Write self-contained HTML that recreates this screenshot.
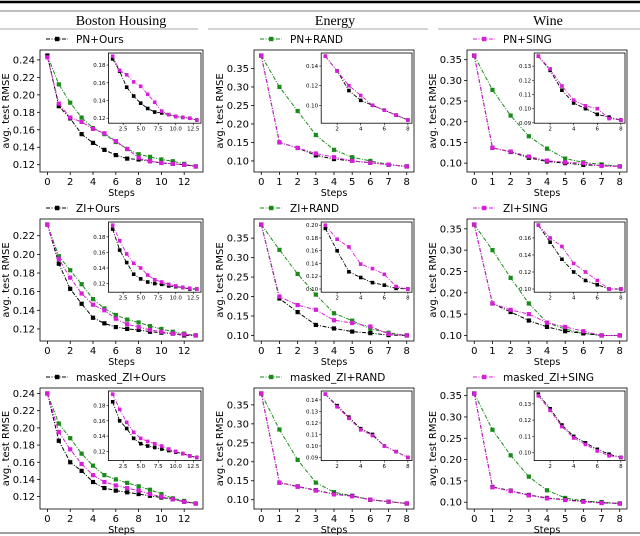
<!DOCTYPE html>
<html><head><meta charset="utf-8"><style>
body{margin:0;background:#fff;}
svg{display:block;font-family:"DejaVu Sans","Liberation Sans",sans-serif;}
</style></head><body>
<svg id="fig" width="640" height="536" viewBox="0 0 640 536" xmlns="http://www.w3.org/2000/svg">
<line x1="0" y1="2" x2="640" y2="2" stroke="#000" stroke-width="2.5"/>
<line x1="0" y1="11" x2="640" y2="11" stroke="#000" stroke-width="0.6"/>
<line x1="0" y1="29" x2="198" y2="29" stroke="#555" stroke-width="0.6"/>
<line x1="208" y1="29" x2="428" y2="29" stroke="#555" stroke-width="0.6"/>
<line x1="438" y1="29" x2="640" y2="29" stroke="#555" stroke-width="0.6"/>
<line x1="0" y1="533" x2="640" y2="533" stroke="#000" stroke-width="0.8"/>
<text x="121" y="25" text-anchor="middle" font-family="Liberation Serif,serif" font-size="14">Boston Housing</text>
<text x="335" y="25" text-anchor="middle" font-family="Liberation Serif,serif" font-size="14">Energy</text>
<text x="548" y="25" text-anchor="middle" font-family="Liberation Serif,serif" font-size="14">Wine</text>
</svg>
<script>
// ---- data ----
const bostonSteps=[0,1,2,3,4,5,6,7,8,9,10,11,12,13];
const shortSteps=[0,1,2,3,4,5,6,7,8];
const b1Green=[.245,.212,.191,.174,.162,.155,.146,.138,.132,.129,.126,.124,.121,.118];
const b1Black=[.245,.187,.173,.155,.145,.137,.131,.127,.126,.124,.122,.121,.120,.118];
const b1Mag=[.243,.190,.174,.169,.161,.156,.147,.138,.128,.124,.122,.121,.120,.118];
const b2Green=[.232,.198,.183,.168,.152,.142,.135,.130,.127,.123,.120,.117,.115,.113];
const b2Black=[.232,.190,.163,.147,.132,.126,.122,.120,.119,.117,.116,.115,.113,.113];
const b2Mag=[.232,.195,.175,.158,.146,.140,.131,.125,.122,.119,.117,.115,.114,.113];
const b3Green=[.240,.205,.188,.170,.156,.145,.140,.136,.132,.128,.123,.118,.115,.112];
const b3Black=[.240,.185,.160,.150,.137,.130,.127,.125,.123,.121,.119,.117,.114,.112];
const b3Mag=[.240,.195,.175,.158,.145,.137,.133,.130,.127,.123,.120,.117,.114,.112];
const e1Green=[.385,.300,.235,.170,.130,.110,.100,.090,.085];
const e1Black=[.385,.150,.135,.115,.105,.100,.095,.090,.085];
const e1Mag=[.385,.150,.135,.120,.110,.100,.095,.090,.085];
const e2Green=[.385,.320,.258,.205,.157,.138,.117,.107,.100];
const e2Black=[.385,.195,.160,.127,.118,.110,.106,.101,.100];
const e2Mag=[.385,.200,.178,.166,.139,.132,.123,.104,.100];
const e3Green=[.380,.285,.205,.145,.120,.110,.100,.095,.090];
const e3Black=[.380,.145,.135,.125,.115,.110,.100,.095,.090];
const e3Mag=[.380,.145,.134,.124,.114,.109,.100,.095,.090];
const w1Green=[.360,.277,.215,.165,.135,.111,.102,.097,.092];
const w1Black=[.360,.137,.127,.113,.104,.100,.096,.094,.092];
const w1Mag=[.360,.137,.128,.116,.106,.102,.100,.093,.092];
const w2Green=[.360,.300,.235,.175,.130,.115,.105,.100,.100];
const w2Black=[.360,.175,.155,.135,.120,.110,.105,.100,.100];
const w2Mag=[.360,.175,.160,.150,.130,.120,.110,.100,.100];
const w3Green=[.355,.270,.210,.160,.128,.110,.103,.100,.097];
const w3Black=[.355,.136,.127,.117,.110,.106,.102,.099,.097];
const w3Mag=[.355,.135,.126,.116,.109,.105,.101,.098,.097];
const bostonXTicks=[0,2,4,6,8,10,12];
const shortXTicks=[0,1,2,3,4,5,6,7,8];
const bostonInsetXTicks=[2.5,5.0,7.5,10.0,12.5];
const shortInsetXTicks=[2,4,6,8];
const boston1YTicks=[.12,.14,.16,.18,.20,.22,.24];
const boston2YTicks=[.12,.14,.16,.18,.20,.22];
const shortYTicks=[.10,.15,.20,.25,.30,.35];
const b1InsetYTicks=[.12,.14,.16,.18];
const b2InsetYTicks=[.12,.14,.16,.18,.20];
const e1InsetYTicks=[.08,.10,.12,.14];
const e2InsetYTicks=[.10,.12,.14,.16,.18,.20];
const e3InsetYTicks=[.09,.10,.11,.12,.13,.14];
const w1InsetYTicks=[.09,.10,.11,.12,.13,.14];
const w2InsetYTicks=[.10,.12,.14,.16];
const w3InsetYTicks=[.10,.11,.12,.13];
const legendLabels=["PN+Ours","PN+RAND","PN+SING","ZI+Ours","ZI+RAND","ZI+SING","masked_ZI+Ours","masked_ZI+RAND","masked_ZI+SING"];

const NS="http://www.w3.org/2000/svg";
const fig=document.getElementById('fig');
const GREEN="#1a8a1a",BLACK="#000",MAG="#d81ed8";
function el(tag,attrs,parent){const e=document.createElementNS(NS,tag);for(const k in attrs)e.setAttribute(k,attrs[k]);(parent||fig).appendChild(e);return e;}
function fmt(v,d){return v.toFixed(d);}

const cols=[{x0:40,x1:203},{x0:254,x1:414},{x0:467,x1:627}];
const rows=[{y0:50,y1:172},{y0:219,y1:341},{y0:388,y1:509}];
const panels=[
 [{xs:bostonSteps,s:[b1Green,b1Black,b1Mag],xt:bostonXTicks,yt:boston1YTicks,ixt:bostonInsetXTicks,iyt:b1InsetYTicks},
  {xs:shortSteps,s:[e1Green,e1Black,e1Mag],xt:shortXTicks,yt:shortYTicks,ixt:shortInsetXTicks,iyt:e1InsetYTicks},
  {xs:shortSteps,s:[w1Green,w1Black,w1Mag],xt:shortXTicks,yt:shortYTicks,ixt:shortInsetXTicks,iyt:w1InsetYTicks}],
 [{xs:bostonSteps,s:[b2Green,b2Black,b2Mag],xt:bostonXTicks,yt:boston2YTicks,ixt:bostonInsetXTicks,iyt:b2InsetYTicks},
  {xs:shortSteps,s:[e2Green,e2Black,e2Mag],xt:shortXTicks,yt:shortYTicks,ixt:shortInsetXTicks,iyt:e2InsetYTicks},
  {xs:shortSteps,s:[w2Green,w2Black,w2Mag],xt:shortXTicks,yt:shortYTicks,ixt:shortInsetXTicks,iyt:w2InsetYTicks}],
 [{xs:bostonSteps,s:[b3Green,b3Black,b3Mag],xt:bostonXTicks,yt:boston1YTicks,ixt:bostonInsetXTicks,iyt:b2InsetYTicks},
  {xs:shortSteps,s:[e3Green,e3Black,e3Mag],xt:shortXTicks,yt:shortYTicks,ixt:shortInsetXTicks,iyt:e3InsetYTicks},
  {xs:shortSteps,s:[w3Green,w3Black,w3Mag],xt:shortXTicks,yt:shortYTicks,ixt:shortInsetXTicks,iyt:w3InsetYTicks}]
];
const colors=[GREEN,BLACK,MAG];
const names=["rand","ours","sing"];

function drawSeries(g,xs,ys,sx,sy,color,ms,lw,name){
  const pts=xs.map((x,i)=>sx(x)+","+sy(ys[i])).join(" ");
  const pl=el('polyline',{points:pts,fill:"none",stroke:color,"stroke-width":lw,"stroke-dasharray":"4,1.5,1,1.5"},g);
  
  
  xs.forEach((x,i)=>{
    const r=el('rect',{x:sx(x)-ms/2,y:sy(ys[i])-ms/2,width:ms,height:ms,fill:color},g);
    
    
  });
}

panels.forEach((row,ri)=>row.forEach((p,ci)=>{
  const c=cols[ci],r=rows[ri];
  const g=el('g',{});
  
  
  const all=p.s.flat();
  let mn=Math.min(...all),mx=Math.max(...all),pad=(mx-mn)*0.05;
  const ymin=mn-pad,ymax=mx+pad;
  const xmin=p.xs[0],xmax=p.xs[p.xs.length-1],xp=(xmax-xmin)*0.05;
  const sx=v=>c.x0+(v-(xmin-xp))/((xmax+xp)-(xmin-xp))*(c.x1-c.x0);
  const sy=v=>r.y1-(v-ymin)/(ymax-ymin)*(r.y1-r.y0);
  const frame=el('rect',{x:c.x0,y:r.y0,width:c.x1-c.x0,height:r.y1-r.y0,fill:"none",stroke:"#000","stroke-width":0.8},g);
  
  
  p.xt.forEach(t=>{
    el('line',{x1:sx(t),x2:sx(t),y1:r.y1,y2:r.y1+3,stroke:"#000","stroke-width":0.8},g);
    const tx=el('text',{x:sx(t),y:r.y1+13,"text-anchor":"middle","font-size":10},g);tx.textContent=t;
    
    
  });
  p.yt.forEach(t=>{
    if(t<ymin||t>ymax)return;
    el('line',{x1:c.x0-3,x2:c.x0,y1:sy(t),y2:sy(t),stroke:"#000","stroke-width":0.8},g);
    const ty=el('text',{x:c.x0-5,y:sy(t)+3.5,"text-anchor":"end","font-size":10},g);ty.textContent=fmt(t,2);
    
    
  });
  const xl=el('text',{x:(c.x0+c.x1)/2,y:r.y1+24,"text-anchor":"middle","font-size":9.5},g);xl.textContent="Steps";
  
  
  const yx=c.x0-31,yy=(r.y0+r.y1)/2;
  const yl=el('text',{x:yx,y:yy,"text-anchor":"middle","font-size":10,transform:`rotate(-90 ${yx} ${yy})`},g);yl.textContent="avg. test RMSE";
  
  
  p.s.forEach((ys,k)=>drawSeries(g,p.xs,ys,sx,sy,colors[k],4.2,1,names[k]));
  // legend
  const li=ri*3+ci, lc=colors[[1,0,2][ci]];
  const ly=r.y0-11, lx=c.x0+6;
  const lg=el('g',{},g);
  
  
  el('line',{x1:lx,x2:lx+22,y1:ly,y2:ly,stroke:lc,"stroke-width":1,"stroke-dasharray":"4,1.5,1,1.5"},lg);
  el('rect',{x:lx+9,y:ly-2.2,width:4.4,height:4.4,fill:lc},lg);
  const lt=el('text',{x:lx+30,y:ly+4,"font-size":10.5},lg);lt.textContent=legendLabels[li];
  // inset (ours and sing only)
  const ix0=c.x0+(c.x1-c.x0)*0.42, ix1=c.x1-2, iy0=r.y0+3, iy1=r.y0+(r.y1-r.y0)*0.6;
  const ig=el('g',{},g);
  
  
  el('rect',{x:ix0,y:iy0,width:ix1-ix0,height:iy1-iy0,fill:"#fff",stroke:"#000","stroke-width":0.8},ig);
  const ixs=p.xs.slice(1);
  const is=[p.s[1].slice(1),p.s[2].slice(1)].flat();
  let imn=Math.min(...is),imx=Math.max(...is),ipd=(imx-imn)*0.05;
  const iymin=imn-ipd,iymax=imx+ipd;
  const ixmin=ixs[0],ixmax=ixs[ixs.length-1],ixp=(ixmax-ixmin)*0.05;
  const isx=v=>ix0+(v-(ixmin-ixp))/((ixmax+ixp)-(ixmin-ixp))*(ix1-ix0);
  const isy=v=>iy1-(v-iymin)/(iymax-iymin)*(iy1-iy0);
  p.ixt.forEach(t=>{
    el('line',{x1:isx(t),x2:isx(t),y1:iy1,y2:iy1+2,stroke:"#000","stroke-width":0.6},ig);
    const tx=el('text',{x:isx(t),y:iy1+7.5,"text-anchor":"middle","font-size":5.5},ig);tx.textContent=(p.ixt[0]%1?fmt(t,1):t);
  });
  p.iyt.forEach(t=>{
    if(t<iymin||t>iymax)return;
    el('line',{x1:ix0-2,x2:ix0,y1:isy(t),y2:isy(t),stroke:"#000","stroke-width":0.6},ig);
    const ty=el('text',{x:ix0-3,y:isy(t)+2,"text-anchor":"end","font-size":5.5},ig);ty.textContent=fmt(t,2);
  });
  [1,2].forEach(k=>drawSeries(ig,ixs,p.s[k].slice(1),isx,isy,colors[k],3.6,0.9,'inset-'+names[k]));
}));
</script>
</body></html>
